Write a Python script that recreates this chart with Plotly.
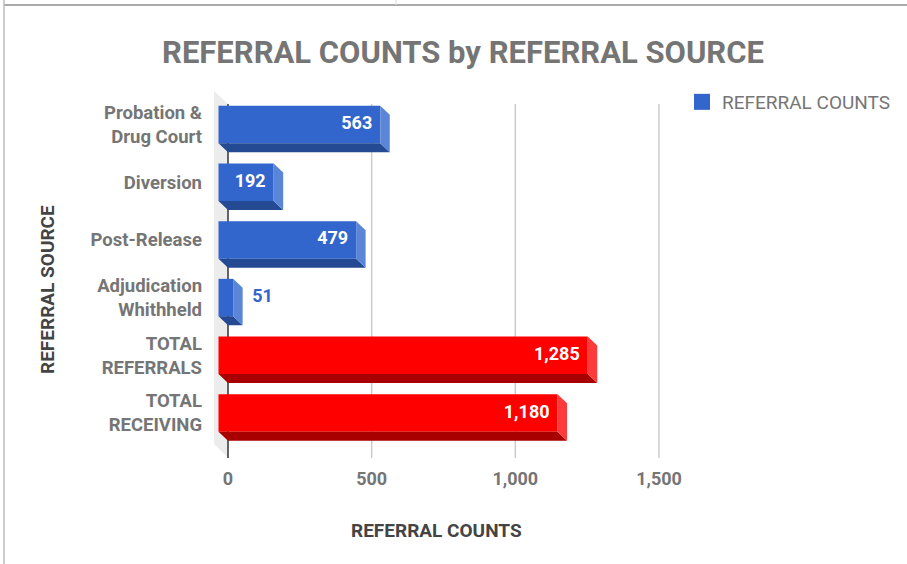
import plotly.graph_objects as go

# ---------------- data ----------------
categories = ["Probation &<br>Drug Court", "Diversion", "Post-Release",
              "Adjudication<br>Whithheld", "TOTAL<br>REFERRALS", "TOTAL<br>RECEIVING"]
counts = [563, 192, 479, 51, 1285, 1180]
is_total = [False, False, False, False, True, True]
x_ticks = [0, 500, 1000, 1500]

# ---------------- geometry / styles ----------------
W, H = 907, 564
X0_PX, X1500_PX = 228, 659            # pixel of value 0 and 1500
PXU = (X1500_PX - X0_PX) / 1500.0     # px per unit
ROW0_PX, ROW_STEP = 124.5, 57.7       # pixel of first row center, row spacing
DOM_L_PX, DOM_R_PX = 205, 700
DOM_T_PX, DOM_B_PX = 88, 458

xmin = (DOM_L_PX - X0_PX) / PXU
xmax = (DOM_R_PX - X0_PX) / PXU
ytop = (DOM_T_PX - ROW0_PX) / ROW_STEP
ybot = (DOM_B_PX - ROW0_PX) / ROW_STEP


def yu(px):
    return (px - ROW0_PX) / ROW_STEP


def xu(px):
    return (px - X0_PX) / PXU


DX = 9.5 / PXU        # depth offset in x units
DY = 9.0 / ROW_STEP   # depth offset in y units
HALF = 0.325          # half bar thickness in row units

BLUE = dict(front="#3366CC", bottom="#244A93", side="#5B86D8")
RED = dict(front="#FF0000", bottom="#A80000", side="#FF3B3B")
FONT = "Roboto, Arial, sans-serif"
GRAY = "#757575"
DARK = "#444444"

fig = go.Figure()

# 3D faces (bottom + right side) computed from data values
for i, (v, tot) in enumerate(zip(counts, is_total)):
    col = RED if tot else BLUE
    yb = i + HALF
    yt = i - HALF
    # bottom face
    fig.add_trace(go.Scatter(
        x=[-DX, v - DX, v, 0, -DX], y=[yb, yb, yb + DY, yb + DY, yb],
        fill="toself", fillcolor=col["bottom"], mode="lines",
        line=dict(width=0, color=col["bottom"]), hoverinfo="skip", showlegend=False))
    # side face
    fig.add_trace(go.Scatter(
        x=[v - DX, v, v, v - DX, v - DX], y=[yt, yt + DY, yb + DY, yb, yt],
        fill="toself", fillcolor=col["side"], mode="lines",
        line=dict(width=0, color=col["side"]), hoverinfo="skip", showlegend=False))

# front faces
fig.add_trace(go.Bar(
    y=list(range(len(counts))), x=counts, base=[-DX] * len(counts),
    orientation="h", width=2 * HALF,
    marker=dict(color=[RED["front"] if t else BLUE["front"] for t in is_total],
                line=dict(width=0)),
    showlegend=False, hoverinfo="x"))

# value labels
for i, v in enumerate(counts):
    inside = v * PXU > 40
    fig.add_trace(go.Scatter(
        x=[v - DX - 8 / PXU] if inside else [v + 9.5 / PXU], y=[i],
        mode="text", text=[f"{v:,}"],
        textposition="middle left" if inside else "middle right",
        textfont=dict(family=FONT, size=18, color="white" if inside else BLUE["front"],
                      weight="bold"),
        hoverinfo="skip", showlegend=False, cliponaxis=False))

# legend entry
fig.add_trace(go.Scatter(
    x=[None], y=[None], mode="markers", name="REFERRAL COUNTS",
    marker=dict(symbol="square", size=18, color=BLUE["front"]), showlegend=True))

shapes = []
# wall
shapes.append(dict(
    type="path", xref="x", yref="y", layer="below",
    path=f"M {xu(214)} {yu(91)} L 0 {yu(104)} L 0 {yu(458)} L {xu(214)} {yu(444)} Z",
    fillcolor="#ECECEC", line=dict(width=0)))
# grid lines
for t in x_ticks[1:]:
    shapes.append(dict(type="line", xref="x", yref="y", layer="below",
                       x0=t, x1=t, y0=yu(104), y1=yu(458),
                       line=dict(color="#CCCCCC", width=1.5)))
# zero line
shapes.append(dict(type="line", xref="x", yref="y", layer="below",
                   x0=0, x1=0, y0=yu(104), y1=yu(458),
                   line=dict(color="#333333", width=1.5)))
# screenshot border
shapes.append(dict(type="line", xref="paper", yref="paper",
                   x0=4 / W, x1=1, y0=1 - 5 / H, y1=1 - 5 / H,
                   line=dict(color="#AAAAAA", width=2)))
shapes.append(dict(type="line", xref="paper", yref="paper",
                   x0=4 / W, x1=4 / W, y0=0, y1=1,
                   line=dict(color="#BBBBBB", width=1.5)))
shapes.append(dict(type="line", xref="paper", yref="paper",
                   x0=396 / W, x1=396 / W, y0=1 - 5 / H, y1=1,
                   line=dict(color="#DDDDDD", width=1)))

fig.update_layout(
    width=W, height=H, autosize=False,
    margin=dict(l=0, r=0, t=0, b=0),
    paper_bgcolor="white", plot_bgcolor="white",
    font=dict(family=FONT, size=18, color=GRAY),
    title=dict(text="<b>REFERRAL COUNTS by REFERRAL SOURCE</b>",
               x=463 / W, y=1 - 52 / H, xanchor="center", yanchor="middle",
               font=dict(family=FONT, size=31, color=GRAY)),
    xaxis=dict(domain=[DOM_L_PX / W, DOM_R_PX / W], range=[xmin, xmax],
               tickvals=x_ticks, ticktext=[f"<b>{t:,}</b>" for t in x_ticks],
               showgrid=False, zeroline=False, showline=False, ticks="",
               ticklabelstandoff=8,
               tickfont=dict(family=FONT, size=18, color=GRAY)),
    yaxis=dict(domain=[1 - DOM_B_PX / H, 1 - DOM_T_PX / H], range=[ybot, ytop],
               tickvals=list(range(len(categories))),
               ticktext=[f"<b>{c}</b>" for c in categories],
               showgrid=False, zeroline=False, showline=False, ticks="",
               ticklabelstandoff=2,
               tickfont=dict(family=FONT, size=18.5, color=GRAY)),
    legend=dict(x=682 / W, y=1 - 102 / H, xanchor="left", yanchor="middle",
                font=dict(family=FONT, size=19, color=GRAY),
                bgcolor="rgba(0,0,0,0)"),
    shapes=shapes,
    annotations=[
        dict(text="<b>REFERRAL COUNTS</b>", xref="paper", yref="paper",
             x=436 / W, y=1 - 530 / H, xanchor="center", yanchor="middle",
             showarrow=False, font=dict(family=FONT, size=19, color=DARK)),
        dict(text="<b>REFERRAL SOURCE</b>", xref="paper", yref="paper",
             x=47 / W, y=1 - 290 / H, xanchor="center", yanchor="middle",
             textangle=-90, showarrow=False,
             font=dict(family=FONT, size=19, color=DARK)),
    ],
)

fig.write_html("out.html", config={"displayModeBar": False},
               post_script="document.body.style.margin='0px';")
